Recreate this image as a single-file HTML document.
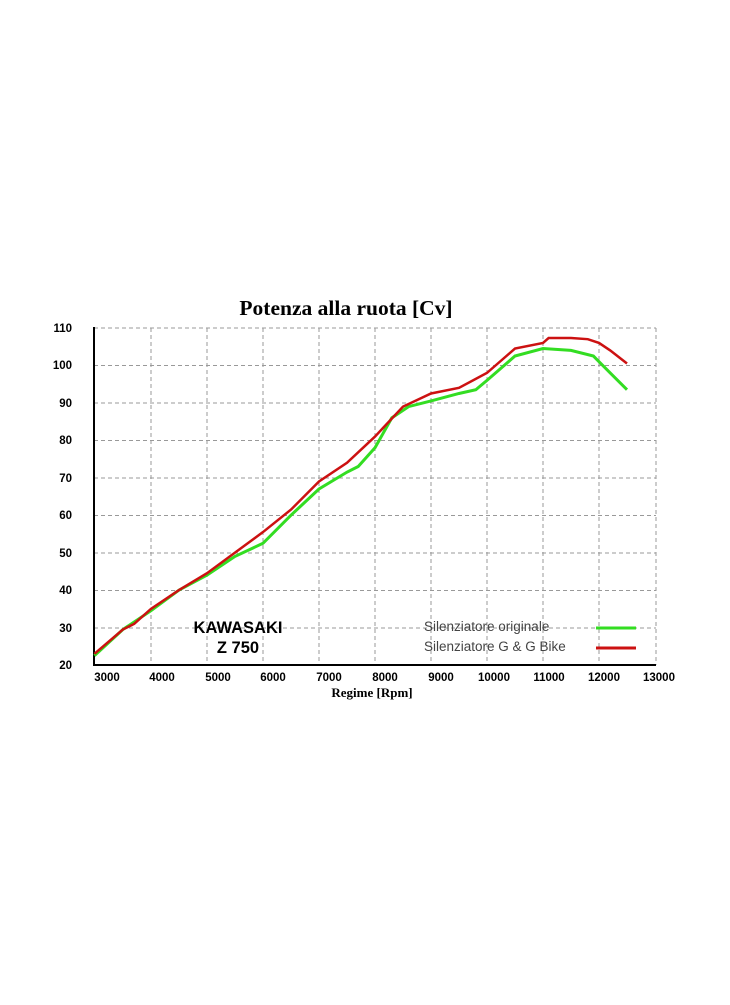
<!DOCTYPE html>
<html><head><style>body{margin:0;background:#fff}</style></head><body>
<svg width="730" height="1000" xmlns="http://www.w3.org/2000/svg" font-family="Liberation Sans, sans-serif">
<rect width="730" height="1000" fill="#fff"/>
<text x="346" y="315" text-anchor="middle" font-family="Liberation Serif, serif" font-weight="bold" font-size="21.5">Potenza alla ruota [Cv]</text>
<g stroke="#999" stroke-dasharray="4,3" stroke-width="1">
<line x1="94" y1="328" x2="656" y2="328"/><line x1="94" y1="365.5" x2="656" y2="365.5"/><line x1="94" y1="403" x2="656" y2="403"/><line x1="94" y1="440.5" x2="656" y2="440.5"/><line x1="94" y1="478" x2="656" y2="478"/><line x1="94" y1="515.5" x2="656" y2="515.5"/><line x1="94" y1="553" x2="656" y2="553"/><line x1="94" y1="590.5" x2="656" y2="590.5"/><line x1="94" y1="628" x2="656" y2="628"/>
<line x1="151" y1="328" x2="151" y2="665"/><line x1="207" y1="328" x2="207" y2="665"/><line x1="263" y1="328" x2="263" y2="665"/><line x1="319" y1="328" x2="319" y2="665"/><line x1="375" y1="328" x2="375" y2="665"/><line x1="431" y1="328" x2="431" y2="665"/><line x1="487" y1="328" x2="487" y2="665"/><line x1="543" y1="328" x2="543" y2="665"/><line x1="599" y1="328" x2="599" y2="665"/><line x1="656" y1="328" x2="656" y2="665"/>
</g>
<line x1="94" y1="327" x2="94" y2="666" stroke="#000" stroke-width="2"/>
<line x1="93" y1="665" x2="656" y2="665" stroke="#000" stroke-width="2"/>
<g font-size="11.5" font-weight="bold" text-anchor="end">
<text x="72" y="332">110</text><text x="72" y="369">100</text><text x="72" y="407">90</text><text x="72" y="444">80</text><text x="72" y="482">70</text><text x="72" y="519">60</text><text x="72" y="557">50</text><text x="72" y="594">40</text><text x="72" y="632">30</text><text x="72" y="669">20</text>
</g>
<g font-size="11.5" font-weight="bold" text-anchor="middle">
<text x="107" y="681">3000</text><text x="162" y="681">4000</text><text x="218" y="681">5000</text><text x="273" y="681">6000</text><text x="329" y="681">7000</text><text x="385" y="681">8000</text><text x="441" y="681">9000</text><text x="494" y="681">10000</text><text x="549" y="681">11000</text><text x="604" y="681">12000</text><text x="659" y="681">13000</text>
</g>
<text x="372" y="697" text-anchor="middle" font-family="Liberation Serif, serif" font-weight="bold" font-size="13">Regime [Rpm]</text>
<text x="238" y="633" text-anchor="middle" font-weight="bold" font-size="16.5">KAWASAKI</text>
<text x="238" y="653" text-anchor="middle" font-weight="bold" font-size="16.5">Z 750</text>
<text x="424" y="631" font-size="13.5" fill="#444">Silenziatore originale</text>
<text x="424" y="651" font-size="13.5" fill="#444">Silenziatore G &amp; G Bike</text>
<line x1="596" y1="628" x2="636" y2="628" stroke="#33dd22" stroke-width="3"/>
<line x1="596" y1="648" x2="636" y2="648" stroke="#cc1111" stroke-width="3"/>
<g transform="matrix(0.056 0 0 -3.745 -73 739.9)" fill="none">
<polyline vector-effect="non-scaling-stroke" stroke="#33dd22" stroke-width="3" points="2990,22.5 3500,29.5 4000,34.5 4500,40 5000,44 5500,49 6000,52.5 6500,60 7000,67 7500,71.5 7700,73 8000,78 8300,86 8600,89 9000,90.5 9500,92.5 9800,93.5 10000,96 10500,102.5 11000,104.5 11500,104 11900,102.5 12000,101 12200,98 12500,93.5"/>
<polyline vector-effect="non-scaling-stroke" stroke="#cc1111" stroke-width="2.5" points="2990,23 3500,29.5 3700,31 4000,35 4500,40 5000,44.5 5500,50 6000,55.5 6500,61.5 7000,69 7500,74 8000,81 8500,89 9000,92.5 9500,94 10000,98 10500,104.5 11000,106 11100,107.3 11500,107.3 11800,107 12000,106 12200,104 12500,100.5"/>
</g>
</svg>
</body></html>
